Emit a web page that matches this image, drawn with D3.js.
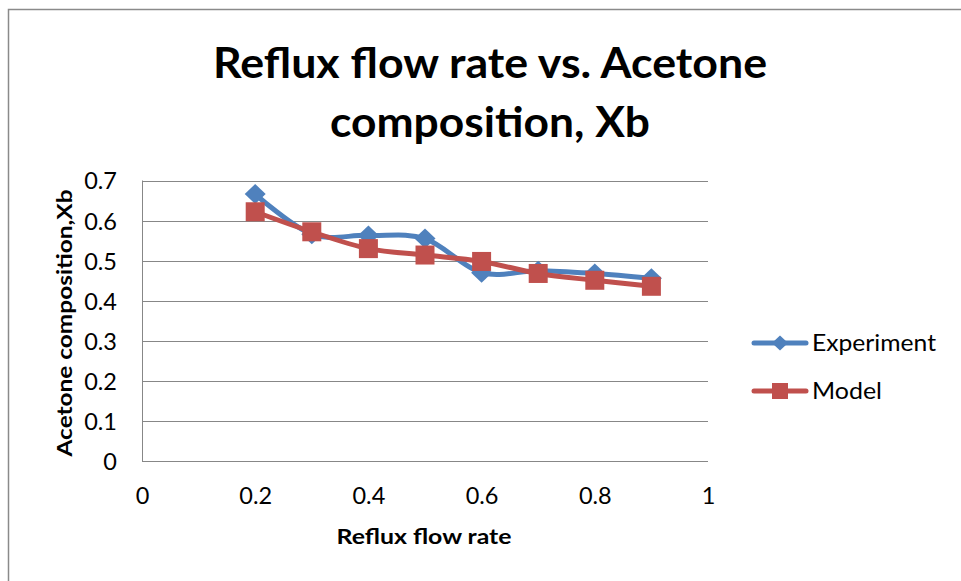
<!DOCTYPE html>
<html>
<head>
<meta charset="utf-8">
<script src="https://cdn.jsdelivr.net/npm/d3@7"></script>
<style>
  html, body { margin: 0; padding: 0; background: #fff; }
  svg { display: block; }
  text { font-family: Lato, "Open Sans", "Liberation Sans", sans-serif; fill: #000; }
</style>
</head>
<body>
<svg id="chart" width="961" height="581"></svg>
<script>
// Reflux flow rate (x) and acetone mole fraction in the bottoms (Xb)
const refluxRates = [0.2, 0.3, 0.4, 0.5, 0.6, 0.7, 0.8, 0.9];
const experimentXb = [0.666, 0.566, 0.563, 0.555, 0.470, 0.475, 0.468, 0.456];
const modelXb = [0.622, 0.572, 0.530, 0.514, 0.498, 0.468, 0.451, 0.436];

const xTicks = [0, 0.2, 0.4, 0.6, 0.8, 1];
const yTicks = [0, 0.1, 0.2, 0.3, 0.4, 0.5, 0.6, 0.7];

const titleLines = ["Reflux flow rate vs. Acetone", "composition, Xb"];
const xTitle = "Reflux flow rate";
const yTitle = "Acetone composition,Xb";
const seriesNames = ["Experiment", "Model"];

const colors = { Experiment: "#4F81BD", Model: "#C0504D" };
const gridColor = "#878787";

const svg = d3.select("#chart");

// outer chart frame
svg.append("rect")
  .attr("x", 8.5).attr("y", 9.5)
  .attr("width", 980).attr("height", 600)
  .attr("fill", "#fff")
  .attr("stroke", "#8a8a8a")
  .attr("stroke-width", 1.5);

const plot = { left: 142, right: 708, top: 180.5, bottom: 461 };

const x = d3.scaleLinear().domain([0, 1]).range([plot.left, plot.right]);
const y = d3.scaleLinear().domain([0, 0.7]).range([plot.bottom, plot.top]);

// horizontal gridlines
svg.append("g")
  .selectAll("line")
  .data(yTicks)
  .join("line")
  .attr("x1", plot.left).attr("x2", plot.right)
  .attr("y1", d => Math.round(y(d)) + 0.5)
  .attr("y2", d => Math.round(y(d)) + 0.5)
  .attr("stroke", gridColor)
  .attr("stroke-width", 1);

// y axis line
svg.append("line")
  .attr("x1", plot.left + 0.5).attr("x2", plot.left + 0.5)
  .attr("y1", plot.top).attr("y2", plot.bottom + 0.5)
  .attr("stroke", gridColor);

// y tick labels
const yAxis = d3.axisLeft(y).tickValues(yTicks).tickSize(0).tickPadding(25)
  .tickFormat(d => d === 0 ? "0" : d3.format(".1f")(d));
const gy = svg.append("g").attr("transform", `translate(${plot.left},0)`).call(yAxis);
gy.select(".domain").remove();
gy.selectAll("text").style("font-size", "23.5px").attr("dy", "0.36em")
  .style("font-family", "Lato, 'Open Sans', sans-serif");

// x tick labels
const xAxis = d3.axisBottom(x).tickValues(xTicks).tickSize(0).tickPadding(26)
  .tickFormat(d => (d === 0 || d === 1) ? String(d) : d3.format(".1f")(d));
const gx = svg.append("g").attr("transform", `translate(0,${plot.bottom})`).call(xAxis);
gx.select(".domain").remove();
gx.selectAll("text").style("font-size", "23.5px").attr("dy", "0.71em")
  .style("font-family", "Lato, 'Open Sans', sans-serif");

// titles
const titleWidths = [554, 320];
svg.append("g").selectAll("text")
  .data(titleLines)
  .join("text")
  .attr("x", 490)
  .attr("y", (d, i) => 78 + i * 59)
  .attr("text-anchor", "middle")
  .attr("textLength", (d, i) => titleWidths[i])
  .attr("lengthAdjust", "spacingAndGlyphs")
  .style("font-size", "42px")
  .style("font-weight", "bold")
  .text(d => d);

svg.append("text")
  .attr("x", 424).attr("y", 544)
  .attr("text-anchor", "middle")
  .attr("textLength", 175)
  .attr("lengthAdjust", "spacingAndGlyphs")
  .style("font-size", "21px")
  .style("font-weight", "bold")
  .text(xTitle);

svg.append("text")
  .attr("transform", "translate(72,323) rotate(-90)")
  .attr("text-anchor", "middle")
  .attr("textLength", 267)
  .attr("lengthAdjust", "spacingAndGlyphs")
  .style("font-size", "21px")
  .style("font-weight", "bold")
  .text(yTitle);

// series
const series = [
  { name: seriesNames[0], values: experimentXb, marker: "diamond" },
  { name: seriesNames[1], values: modelXb, marker: "square" }
];

const line = d3.line()
  .x(d => x(d[0]))
  .y(d => y(d[1]))
  .curve(d3.curveCatmullRom.alpha(0));

const diamondPath = "M0,-10 L10.5,0 L0,10 L-10.5,0 Z";
const squarePath = "M-9.5,-9.5 H9.5 V9.5 H-9.5 Z";

function drawMarker(g, kind, color) {
  g.append("path")
    .attr("d", kind === "diamond" ? diamondPath : squarePath)
    .attr("fill", color);
}

series.forEach(s => {
  const pts = refluxRates.map((r, i) => [r, s.values[i]]);
  const color = colors[s.name];
  const g = svg.append("g");
  g.append("path")
    .datum(pts)
    .attr("d", line)
    .attr("fill", "none")
    .attr("stroke", color)
    .attr("stroke-width", 5)
    .attr("stroke-linejoin", "round")
    .attr("stroke-linecap", "round");
  g.selectAll("g.pt")
    .data(pts)
    .join("g")
    .attr("class", "pt")
    .attr("transform", d => `translate(${x(d[0])},${y(d[1])})`)
    .each(function () { drawMarker(d3.select(this), s.marker, color); });
});

// legend
const legendTextWidths = { Experiment: 124, Model: 70 };
const legend = svg.append("g");
series.forEach((s, i) => {
  const ly = 343 + i * 48;
  const color = colors[s.name];
  const lg = legend.append("g");
  lg.append("line")
    .attr("x1", 754).attr("x2", 806)
    .attr("y1", ly).attr("y2", ly)
    .attr("stroke", color).attr("stroke-width", 5)
    .attr("stroke-linecap", "round");
  const m = lg.append("g").attr("transform", `translate(780,${ly})`);
  m.append("path")
    .attr("d", s.marker === "diamond" ? "M0,-7.5 L8,0 L0,7.5 L-8,0 Z" : "M-8,-8 H8 V8 H-8 Z")
    .attr("fill", color);
  lg.append("text")
    .attr("x", 812).attr("y", ly)
    .attr("dy", "0.36em")
    .attr("textLength", legendTextWidths[s.name])
    .attr("lengthAdjust", "spacingAndGlyphs")
    .style("font-size", "23.5px")
    .text(s.name);
});
</script>
</body>
</html>
